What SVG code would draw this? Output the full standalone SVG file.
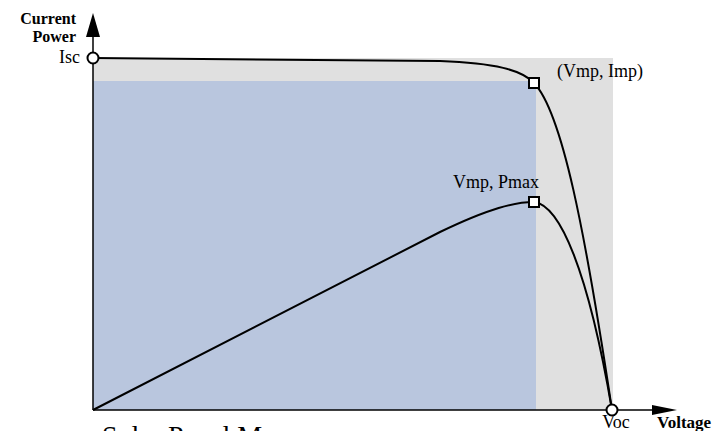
<svg xmlns="http://www.w3.org/2000/svg" width="726" height="431" viewBox="0 0 726 431">
<defs>
<style>
.t{font-family:"Liberation Serif","Times New Roman",serif;font-size:18px;fill:#000}
.b{font-weight:bold;font-size:16px}
.curve{fill:none;stroke:#000;stroke-width:2}
.axis{fill:none;stroke:#000;stroke-width:1.5}
.pt{fill:#fff;stroke:#000;stroke-width:2}
</style>
</defs>
<rect width="726" height="431" fill="#fff"/>
<g id="areas">
<rect x="93" y="58" width="520" height="352" fill="#e0e0e0"/>
<rect x="93" y="81" width="443" height="329" fill="#b9c6de"/>
</g>
<g id="connectors">
<path class="axis" d="M93,410 V36"/>
<path d="M86,37 L93,13 L100,37 Z" fill="#000"/>
<path class="axis" d="M93,410 H652"/>
<path d="M652,405 L677,410 L652,415 Z" fill="#000"/>
<path class="curve" d="M93,58 L440,61 C495,63 522,70 534,83 C562,112 585,230 612,410"/>
<path class="curve" d="M93,410 L440,232 C490,208 515,202 534,202 C560,205 588,270 612,410"/>
</g>
<g id="isc"><circle class="pt" cx="93" cy="58" r="5.5"/><text class="t" x="80" y="63" text-anchor="end">Isc</text></g>
<g id="voc"><circle class="pt" cx="612" cy="410" r="5.5"/><text class="t" x="616" y="428" text-anchor="middle">Voc</text></g>
<g id="mpp-i"><rect class="pt" x="529" y="78" width="10" height="10"/><text class="t" x="557" y="77">(Vmp, Imp)</text></g>
<g id="mpp-p"><rect class="pt" x="529" y="197" width="10" height="10"/><text class="t" x="453" y="188">Vmp, Pmax</text></g>
<g id="labels">
<text class="t b" x="76" y="24" text-anchor="end">Current</text>
<text class="t b" x="76" y="42" text-anchor="end">Power</text>
<text class="t b" x="657" y="428" style="font-size:17px">Voltage</text>
<text class="t" x="102" y="445" style="font-size:28px">Solar Panel M</text>
</g>
</svg>
